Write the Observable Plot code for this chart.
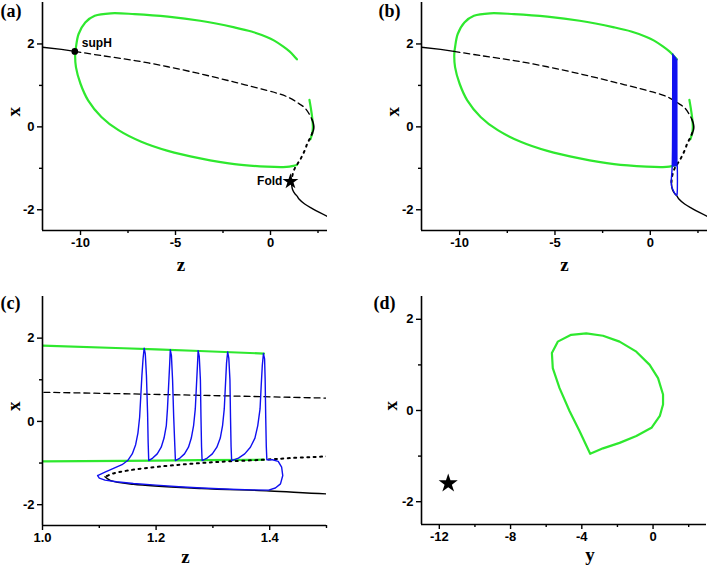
<!DOCTYPE html>
<html><head><meta charset="utf-8">
<script src="https://cdn.jsdelivr.net/npm/d3@7"></script>
<script src="https://cdn.jsdelivr.net/npm/@observablehq/plot@0.6"></script>
<style>
body{margin:0;background:#fff}
#wrap{position:relative;width:707px;height:568px;overflow:hidden;background:#fff}
.panel{position:absolute}
</style></head><body><div id="wrap"></div>
<script>
// ---------- data (z, x) ----------
const upperStable = [[-12,1.92],[-11,1.87],[-10.3,1.82]];
const unstableDashed = [[-10.3,1.82],[-8.9,1.72],[-7.15,1.60],[-5.4,1.45],[-3.7,1.28],[-1.9,1.08],[-0.2,0.88],[0.5,0.79],[1.0,0.70],[1.5,0.56],[1.8,0.46],[2.05,0.30],[2.18,0.18]];
const noseSolid = [[2.18,0.18],[2.25,0.09],[2.28,0.0],[2.26,-0.08],[2.2,-0.15]];
const unstableDotted = [[2.2,-0.15],[2.1,-0.26],[1.96,-0.38],[1.79,-0.58],[1.6,-0.76],[1.5,-0.84],[1.45,-0.87],[1.39,-0.92],[1.30,-0.98],[1.21,-1.08],[1.15,-1.18],[1.125,-1.25],[1.11,-1.33]];
const lowerStable = [[1.11,-1.33],[1.12,-1.42],[1.16,-1.51],[1.28,-1.61],[1.40,-1.67],[1.5,-1.74],[1.8,-1.86],[2.2,-1.97],[2.6,-2.07],[3.0,-2.16]];
const greenLoop = [[1.39,1.63],[1.2,1.73],[1.0,1.82],[0.66,1.94],[0.2,2.08],[-0.2,2.17],[-1.0,2.30],[-1.9,2.40],[-3.7,2.56],[-5.4,2.66],[-7.15,2.72],[-8.4,2.74],[-9.25,2.68],[-9.75,2.52],[-10.1,2.24],[-10.24,1.92],[-10.28,1.76],[-10.24,1.44],[-10.0,1.04],[-9.6,0.64],[-8.9,0.24],[-8.0,-0.08],[-6.8,-0.36],[-5.4,-0.58],[-3.7,-0.76],[-1.9,-0.90],[-0.2,-0.96],[0.66,-0.97],[1.0,-0.96],[1.2,-0.94],[1.39,-0.92]];
const greenSmall = [[2.05,0.65],[2.13,0.43],[2.2,0.2],[2.23,0.0],[2.2,-0.15],[2.1,-0.3]];
const blueOrbit = [[1.097,-1.30],[1.110,-1.22],[1.125,-1.13],[1.140,-1.04],[1.150,-0.94],[1.158,-0.78],[1.164,-0.56],[1.168,-0.28],[1.171,0.10],[1.173,0.60],[1.175,1.10],[1.177,1.50],[1.179,1.76],[1.181,1.62],[1.183,1.10],[1.185,0.20],[1.186,-0.50],[1.187,-0.94],
[1.194,-0.88],[1.202,-0.78],[1.209,-0.62],[1.214,-0.40],[1.218,-0.10],[1.220,0.30],[1.222,0.85],[1.224,1.40],[1.225,1.72],[1.227,1.58],[1.229,1.00],[1.231,0.10],[1.233,-0.60],[1.234,-0.94],
[1.242,-0.88],[1.250,-0.78],[1.257,-0.62],[1.262,-0.40],[1.266,-0.10],[1.269,0.30],[1.271,0.85],[1.273,1.40],[1.274,1.70],[1.276,1.56],[1.278,1.00],[1.279,0.10],[1.280,-0.60],[1.281,-0.94],
[1.290,-0.88],[1.299,-0.78],[1.307,-0.62],[1.313,-0.40],[1.317,-0.10],[1.320,0.30],[1.322,0.85],[1.324,1.40],[1.326,1.67],[1.328,1.52],[1.330,1.00],[1.331,0.10],[1.332,-0.60],[1.333,-0.94],
[1.345,-0.88],[1.356,-0.78],[1.366,-0.62],[1.374,-0.40],[1.379,-0.10],[1.383,0.30],[1.385,0.85],[1.387,1.35],[1.389,1.63],[1.391,1.50],[1.392,1.00],[1.393,0.10],[1.394,-0.60],[1.395,-0.92],
[1.405,-0.92],[1.415,-0.96],[1.421,-1.10],[1.423,-1.30],[1.419,-1.50],[1.410,-1.60],[1.398,-1.65],[1.370,-1.645],[1.330,-1.63],[1.280,-1.60],[1.240,-1.57],[1.200,-1.53],[1.160,-1.49],[1.130,-1.45],[1.110,-1.41],[1.100,-1.36],[1.097,-1.30]];
const supH = [[-10.3,1.82]];
const foldPoint = [[1.05,-1.32]];
// panel (d): (y, x)
const greenCycleYX = [[-3.53,-0.95],[-4.13,-0.45],[-4.69,-0.01],[-5.25,0.49],[-5.63,0.93],[-5.68,1.26],[-5.35,1.51],[-4.60,1.66],[-3.75,1.69],[-2.81,1.64],[-1.88,1.51],[-0.94,1.29],[-0.19,1.00],[0.28,0.71],[0.56,0.35],[0.56,0.13],[0.38,-0.12],[-0.09,-0.38],[-0.94,-0.56],[-1.88,-0.71],[-2.81,-0.83],[-3.53,-0.95]];
const starD = [[-11.5,-1.6]];
// ticks
const zMajorAB = [-10,-5,0], zMinorAB = [-7.5,-2.5,2.5];
const xMajor = [-2,0,2], xMinor = [-1,1];
const zMajorC = [1.0,1.2,1.4], zMinorC = [1.1,1.3,1.5];
const yMajorD = [-12,-8,-4,0], yMinorD = [-10,-6,-2,2];

// ---------- style ----------
const GREEN = "#2ee82e", BLUE = "#1010f0";
const SANS = "Liberation Sans, Arial, sans-serif";
const SERIF = "Liberation Serif, Times New Roman, serif";
const P = d => d[0], Q = d => d[1];

function eqMarks() {
  return [
    Plot.line(greenLoop, {x:P, y:Q, stroke:GREEN, strokeWidth:2.2, curve:"catmull-rom", clip:true}),
    Plot.line(greenSmall, {x:P, y:Q, stroke:GREEN, strokeWidth:2.2, curve:"catmull-rom", clip:true}),
    Plot.line(upperStable, {x:P, y:Q, stroke:"black", strokeWidth:1.4, clip:true}),
    Plot.line(unstableDashed, {x:P, y:Q, stroke:"black", strokeWidth:1.3, strokeDasharray:"6,4", curve:"catmull-rom", clip:true}),
    Plot.line(noseSolid, {x:P, y:Q, stroke:"black", strokeWidth:1.6, curve:"catmull-rom", clip:true}),
    Plot.line(unstableDotted, {x:P, y:Q, stroke:"black", strokeWidth:2, strokeDasharray:"2,4.5", curve:"catmull-rom", clip:true}),
    Plot.line(lowerStable, {x:P, y:Q, stroke:"black", strokeWidth:1.4, curve:"catmull-rom", clip:true})
  ];
}

function panel(o) {
  const marks = [
    ...o.marks,
    Plot.ruleX([o.xDomain[0]], {strokeWidth:1.6}),
    Plot.ruleY([o.yDomain[0]], {strokeWidth:1.6}),
    Plot.axisX(o.xMajor, {tickSize:5, tickPadding:2, tickFormat:o.xFmt, fontSize:13, fontWeight:"bold", fontFamily:SANS, strokeWidth:1.4, label:null}),
    Plot.axisX(o.xMinor, {tickSize:3, tickFormat:() => "", strokeWidth:1.4, label:null}),
    Plot.axisY(o.yMajor, {tickSize:5, tickPadding:3, tickFormat:d => String(d), fontSize:13, fontWeight:"bold", fontFamily:SANS, strokeWidth:1.4, label:null}),
    Plot.axisY(o.yMinor, {tickSize:3, tickFormat:() => "", strokeWidth:1.4, label:null}),
    Plot.text([o.letter], {frameAnchor:"top-left", dx:o.letterDx, dy:o.letterDy, textAnchor:"start", lineAnchor:"middle", fontFamily:SERIF, fontWeight:"bold", fontSize:18}),
    Plot.text([o.xTitle], {frameAnchor:"bottom", dx:o.xTitleDx, dy:o.xTitleDy, lineAnchor:"middle", fontFamily:SERIF, fontWeight:"bold", fontSize:19}),
    Plot.text(["x"], {frameAnchor:"left", dx:o.yTitleDx, dy:0, rotate:-90, lineAnchor:"middle", fontFamily:SERIF, fontWeight:"bold", fontSize:19})
  ];
  const svg = Plot.plot({
    width:o.width, height:o.height,
    marginLeft:o.m[0], marginTop:o.m[1], marginRight:o.m[2], marginBottom:o.m[3],
    x:{domain:o.xDomain}, y:{domain:o.yDomain},
    style:{background:"transparent", overflow:"visible"},
    marks
  });
  const div = document.createElement("div");
  div.className = "panel";
  div.style.left = o.left + "px"; div.style.top = o.top + "px";
  div.appendChild(svg);
  document.getElementById("wrap").appendChild(div);
}

// (a)
panel({left:0, top:0, width:353, height:284, m:[42,2,26,54],
  xDomain:[-12,3], yDomain:[-2.5,3], xMajor:zMajorAB, xMinor:zMinorAB, yMajor:xMajor, yMinor:xMinor,
  xFmt:d => String(d), letter:"(a)", letterDx:-42, letterDy:9, xTitle:"z", xTitleDx:-4, xTitleDy:34, yTitleDx:-29,
  marks:[...eqMarks(),
    Plot.dot(supH, {x:P, y:Q, r:2.6, fill:"black", stroke:"black"}),
    Plot.text(supH, {x:P, y:Q, text:() => "supH", dx:7, dy:-8, textAnchor:"start", fontFamily:SANS, fontWeight:"bold", fontSize:12}),
    Plot.dot(foldPoint, {x:P, y:Q, r:5, symbol:"star", fill:"black", stroke:"none"}),
    Plot.text(foldPoint, {x:P, y:Q, text:() => "Fold", dx:-8, dy:0, textAnchor:"end", fontFamily:SANS, fontWeight:"bold", fontSize:12})
  ]});

// (b)
panel({left:353, top:0, width:354, height:284, m:[68,2,0,54],
  xDomain:[-12,3], yDomain:[-2.5,3], xMajor:zMajorAB, xMinor:zMinorAB, yMajor:xMajor, yMinor:xMinor,
  xFmt:d => String(d), letter:"(b)", letterDx:-43, letterDy:9, xTitle:"z", xTitleDx:0, xTitleDy:34, yTitleDx:-29,
  marks:[...eqMarks(),
    Plot.line(blueOrbit, {x:P, y:Q, stroke:BLUE, strokeWidth:1.4, clip:true})
  ]});

// (c)
panel({left:0, top:284, width:353, height:284, m:[42,12,27,43],
  xDomain:[1.0,1.5], yDomain:[-2.5,3], xMajor:zMajorC, xMinor:zMinorC, yMajor:xMajor, yMinor:xMinor,
  xFmt:d3.format(".1f"), letter:"(c)", letterDx:-42, letterDy:7, xTitle:"z", xTitleDx:1, xTitleDy:31, yTitleDx:-29,
  marks:[...eqMarks(),
    Plot.line(blueOrbit, {x:P, y:Q, stroke:BLUE, strokeWidth:1.4, clip:true})
  ]});

// (d)
panel({left:353, top:284, width:354, height:284, m:[68,12,1,44],
  xDomain:[-13,3], yDomain:[-2.5,2.5], xMajor:yMajorD, xMinor:yMinorD, yMajor:xMajor, yMinor:xMinor,
  xFmt:d => String(d), letter:"(d)", letterDx:-48, letterDy:7, xTitle:"y", xTitleDx:26, xTitleDy:30, yTitleDx:-31,
  marks:[
    Plot.line(greenCycleYX, {x:P, y:Q, stroke:GREEN, strokeWidth:2.2, curve:"linear"}),
    Plot.dot(starD, {x:P, y:Q, r:6, symbol:"star", fill:"black", stroke:"none"})
  ]});
</script></body></html>
